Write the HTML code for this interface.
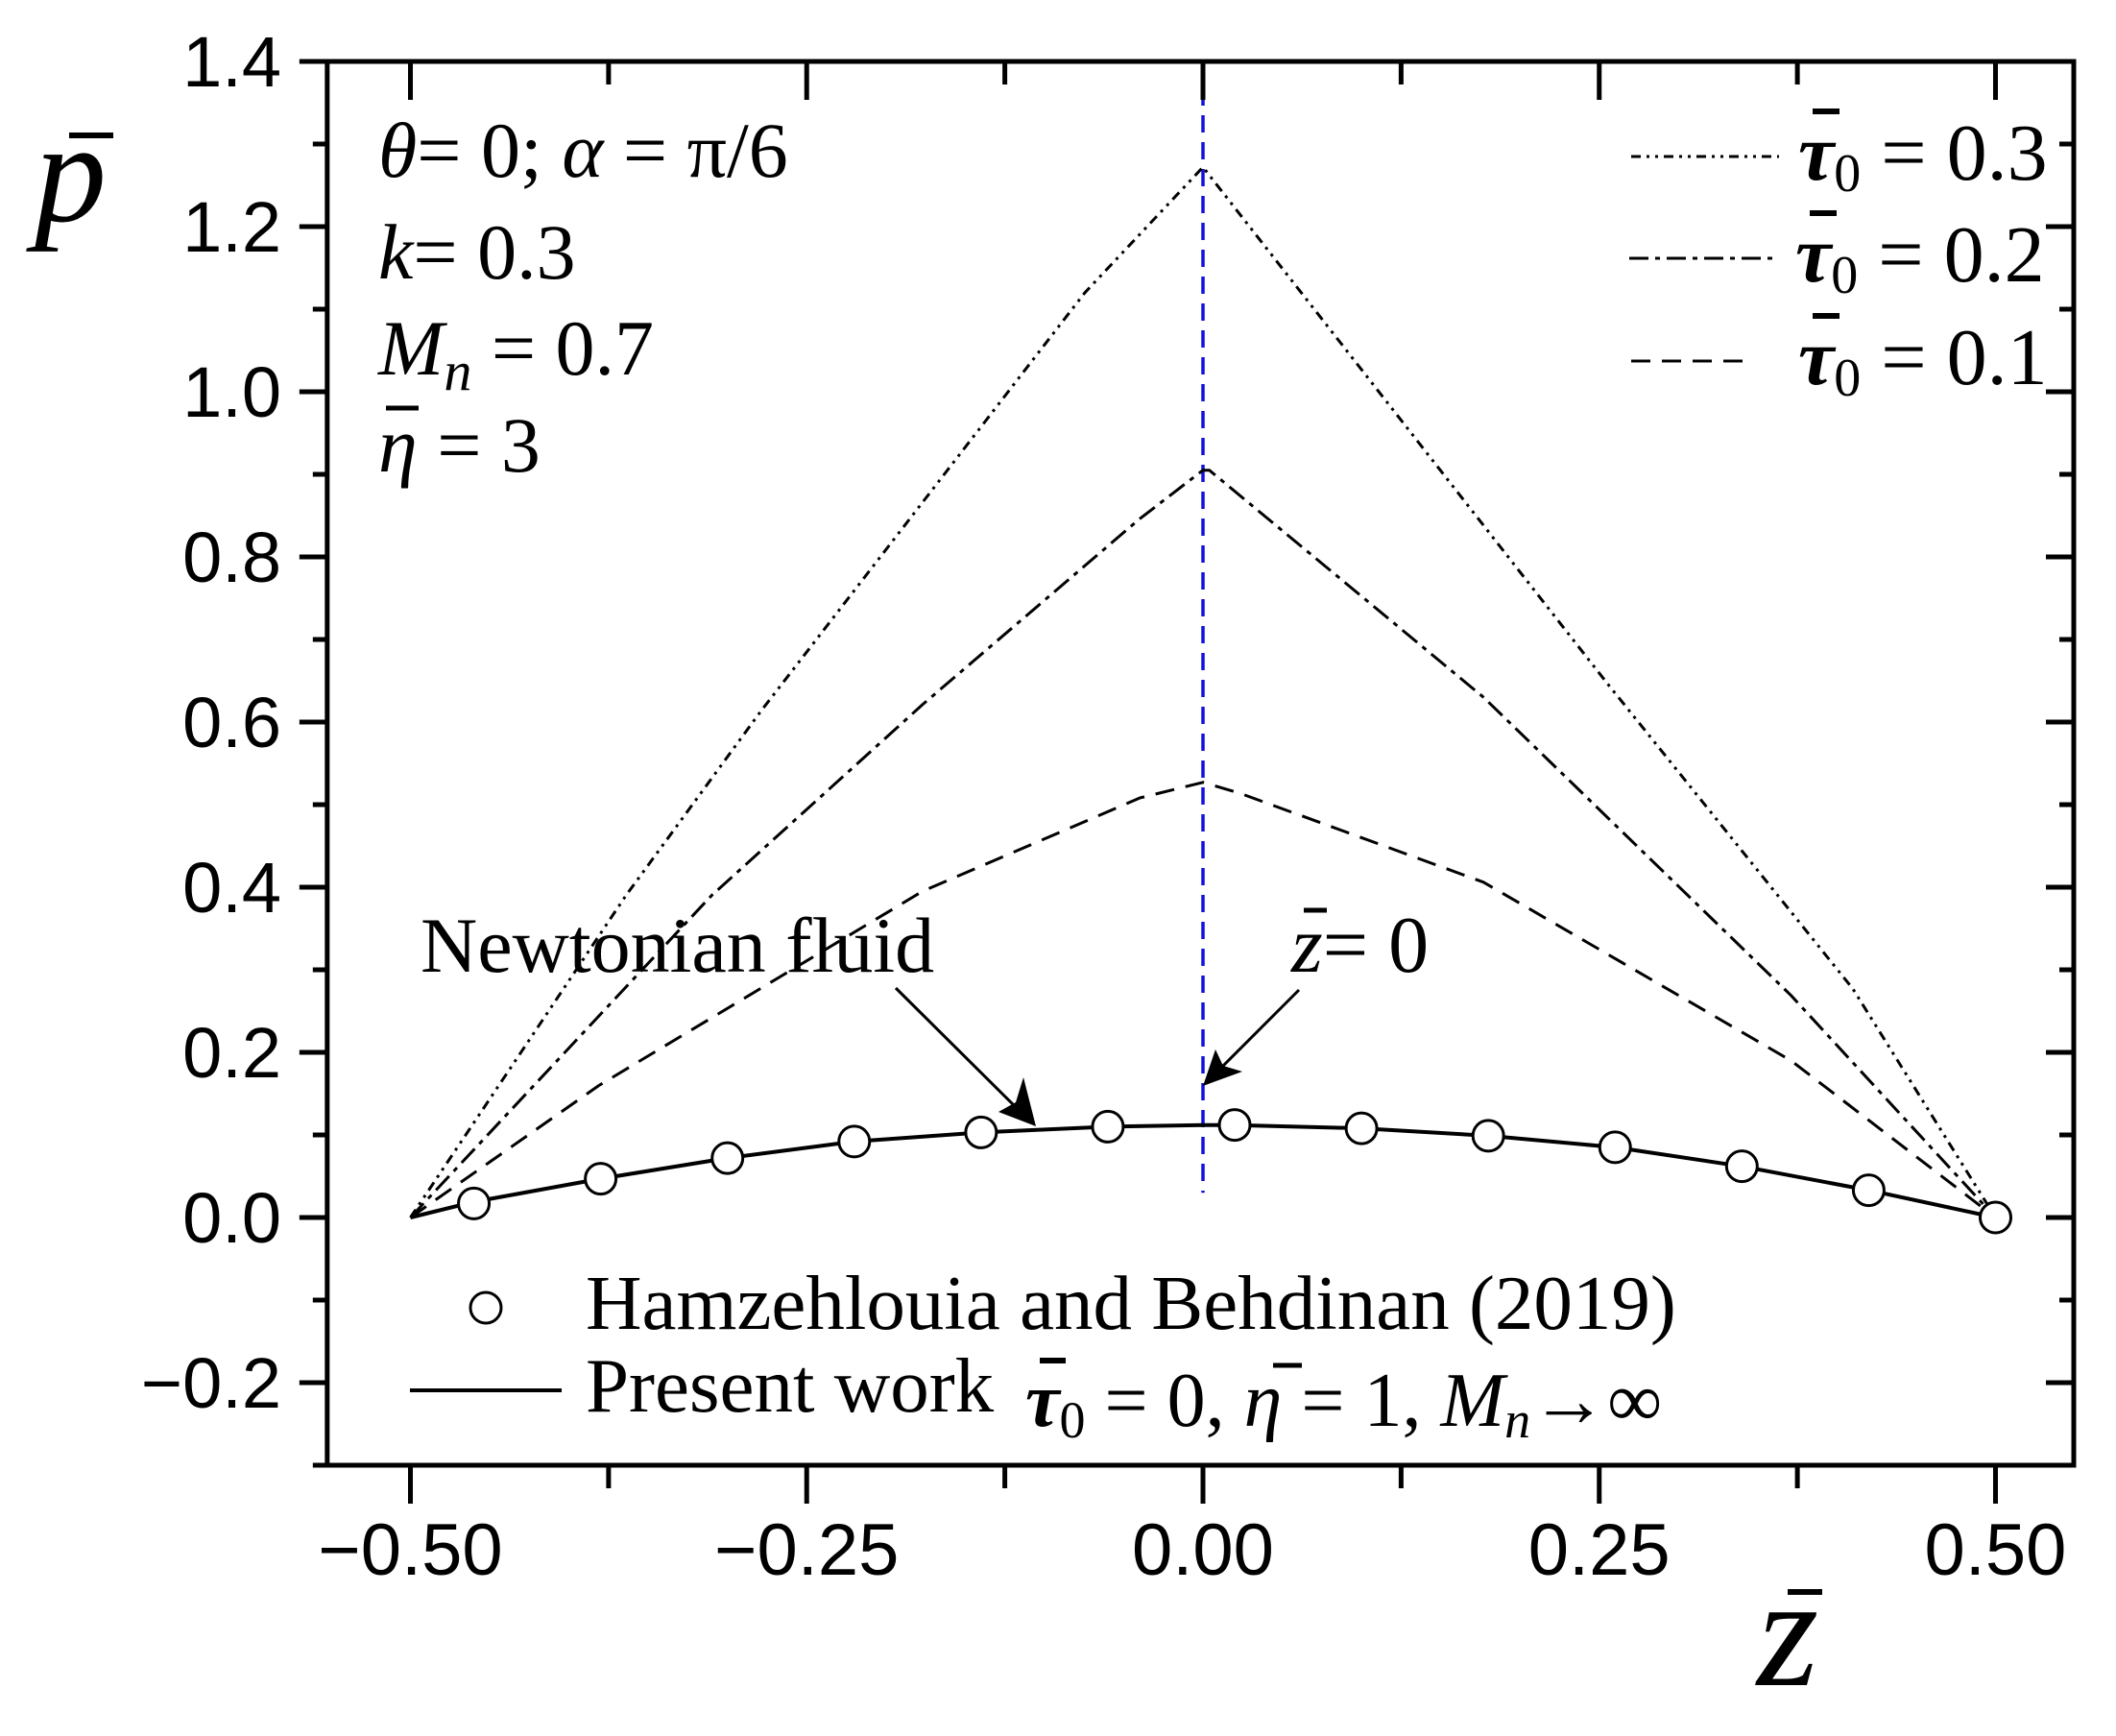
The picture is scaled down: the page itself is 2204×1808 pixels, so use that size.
<!DOCTYPE html>
<html><head><meta charset="utf-8"><style>
html,body{margin:0;padding:0;background:#fff;}
svg{display:block;}
.ser{font-family:"Liberation Serif","DejaVu Serif",serif;}
.san{font-family:"Liberation Sans",Arial,sans-serif;}
</style></head>
<body>
<svg id="chart" width="2204" height="1808" viewBox="0 0 2204 1808" xmlns="http://www.w3.org/2000/svg">
<g id="marks"></g>
<g id="axes"></g>
<g class="ser" fill="#000">
  <text x="394" y="184" font-size="82"><tspan font-style="italic">θ</tspan>= 0; <tspan font-style="italic">α</tspan> = π/6</text>
  <text x="394" y="290" font-size="82"><tspan font-style="italic">k</tspan>= 0.3</text>
  <text x="394" y="390" font-size="82"><tspan font-style="italic">M</tspan><tspan font-style="italic" font-size="58" dy="16">n</tspan><tspan dy="-16"> = 0.7</tspan></text>
  <text x="394" y="491" font-size="82"><tspan font-style="italic">η</tspan> = 3</text>
  <line x1="402" y1="425" x2="436" y2="425" stroke="#000" stroke-width="5"/>
  <text x="438" y="1012" font-size="82">Newtonian fluid</text>
  <text x="1345" y="1012" font-size="84"><tspan font-style="italic">z</tspan>= 0</text>
  <line x1="1358" y1="948" x2="1382" y2="948" stroke="#000" stroke-width="5"/>
  <line x1="933" y1="1029" x2="1065" y2="1160" stroke="#000" stroke-width="3"/>
  <polygon points="1079,1173 1040,1158 1058,1148 1066,1122" fill="#000"/>
  <line x1="1353" y1="1031" x2="1266" y2="1118" stroke="#000" stroke-width="3"/>
  <polygon points="1253,1131 1266,1093 1274,1110 1294,1116" fill="#000"/>
  <text x="36" y="230" font-size="150" font-style="italic">p</text>
  <line x1="72" y1="141" x2="118" y2="141" stroke="#000" stroke-width="6"/>
  <text x="1830" y="1755" font-size="165" font-style="italic">z</text>
  <line x1="1862" y1="1658" x2="1898" y2="1658" stroke="#000" stroke-width="6"/>
</g>
<g class="ser">
  <line x1="1699" y1="163" x2="1853" y2="163" stroke="#000" stroke-width="3" stroke-dasharray="10 6 3 6 3 6"/>
  <text x="1873" y="187" font-size="84"><tspan font-style="italic" font-weight="bold">τ</tspan><tspan font-size="56" dy="12">0</tspan><tspan dy="-12"> = 0.3</tspan></text>
  <line x1="1697" y1="269" x2="1853" y2="269" stroke="#000" stroke-width="3" stroke-dasharray="20 7 5 7"/>
  <text x="1870" y="293" font-size="84"><tspan font-style="italic" font-weight="bold">τ</tspan><tspan font-size="56" dy="12">0</tspan><tspan dy="-12"> = 0.2</tspan></text>
  <line x1="1699" y1="376" x2="1825" y2="376" stroke="#000" stroke-width="3" stroke-dasharray="20 12"/>
  <text x="1873" y="400" font-size="84"><tspan font-style="italic" font-weight="bold">τ</tspan><tspan font-size="56" dy="12">0</tspan><tspan dy="-12"> = 0.1</tspan></text>
  <line x1="1888" y1="116" x2="1916" y2="116" stroke="#000" stroke-width="6"/>
  <line x1="1885" y1="222" x2="1913" y2="222" stroke="#000" stroke-width="6"/>
  <line x1="1888" y1="329" x2="1916" y2="329" stroke="#000" stroke-width="6"/>
</g>
<g class="ser">
  <circle cx="506" cy="1362" r="16" fill="#fff" stroke="#000" stroke-width="3"/>
  <text x="610" y="1384" font-size="81">Hamzehlouia and Behdinan (2019)</text>
  <line x1="427" y1="1448" x2="585" y2="1448" stroke="#000" stroke-width="4"/>
  <text x="610" y="1470" font-size="81">Present work</text>
  <text x="1068" y="1485" font-size="80"><tspan font-style="italic" font-weight="bold">τ</tspan><tspan font-size="54" dy="12">0</tspan><tspan dy="-12"> = 0, </tspan><tspan font-style="italic">η</tspan> = 1, <tspan font-style="italic">M</tspan><tspan font-style="italic" font-size="54" dy="12">n</tspan><tspan dy="-12">→∞</tspan></text>
  <line x1="1083" y1="1417" x2="1110" y2="1417" stroke="#000" stroke-width="6"/>
  <line x1="1326" y1="1422" x2="1356" y2="1422" stroke="#000" stroke-width="5"/>
</g>
</svg>
<script>
const xTicks = [-0.5, -0.25, 0, 0.25, 0.5];
const xTickLabels = ["\u22120.50", "\u22120.25", "0.00", "0.25", "0.50"];
const yTicks = [-0.2, 0, 0.2, 0.4, 0.6, 0.8, 1.0, 1.2, 1.4];
const yTickLabels = ["\u22120.2", "0.0", "0.2", "0.4", "0.6", "0.8", "1.0", "1.2", "1.4"];
const tau03Z = [-0.5, -0.364, -0.279, -0.0745, 0, 0.255, 0.41, 0.5];
const tau03P = [0, 0.39, 0.613, 1.12, 1.272, 0.647, 0.277, 0];
const tau02Z = [-0.5, -0.31, -0.177, -0.04, 0, 0.004, 0.177, 0.371, 0.5];
const tau02P = [0, 0.39, 0.621, 0.846, 0.905, 0.905, 0.63, 0.269, 0];
const tau01Z = [-0.5, -0.381, -0.177, -0.04, 0, 0.023, 0.177, 0.371, 0.5];
const tau01P = [0, 0.16, 0.395, 0.508, 0.527, 0.514, 0.406, 0.19, 0];
const newtZ = [-0.5, -0.46, -0.38, -0.30, -0.22, -0.14, -0.06, 0, 0.02, 0.10, 0.18, 0.26, 0.34, 0.42, 0.5];
const newtP = [0, 0.019, 0.047, 0.072, 0.092, 0.103, 0.110, 0.112, 0.112, 0.108, 0.099, 0.085, 0.062, 0.033, 0];
const refZ = [-0.46, -0.38, -0.30, -0.22, -0.14, -0.06, 0.02, 0.10, 0.18, 0.26, 0.34, 0.42, 0.50];
const refP = [0.017, 0.047, 0.072, 0.092, 0.103, 0.110, 0.112, 0.108, 0.099, 0.085, 0.062, 0.033, 0];

const NS = "http://www.w3.org/2000/svg";
const X0 = 1253, XS = 1651, Y0 = 1268, YS = 860;
function xs(v){ return X0 + v * XS; }
function ys(v){ return Y0 - v * YS; }
const LEFT = xs(-0.5525), RIGHT = 2160, TOP = ys(1.4), BOT = ys(-0.3);
function mk(tag, attrs, parent){
  const e = document.createElementNS(NS, tag);
  for (const k in attrs) e.setAttribute(k, attrs[k]);
  parent.appendChild(e);
  return e;
}
const marks = document.getElementById("marks");
const axes = document.getElementById("axes");

const vl = mk("line", {x1: xs(0), x2: xs(0), y1: TOP, y2: ys(0.03), stroke: "#1010e0", "stroke-width": 3.5, "stroke-dasharray": "18 10"}, marks);



function series(zs, ps, dash, name, w){
  const d = zs.map((z,i)=>(i?"L":"M")+xs(z).toFixed(1)+","+ys(ps[i]).toFixed(1)).join(" ");
  const p = mk("path", {d: d, fill: "none", stroke: "#000", "stroke-width": w, "stroke-dasharray": dash, "stroke-linejoin": "round"}, marks);
  
  
}
series(tau03Z, tau03P, "10 6 3 6 3 6", "series-tau03", 3);
series(tau02Z, tau02P, "20 7 5 7", "series-tau02", 3);
series(tau01Z, tau01P, "20 12", "series-tau01", 3);
series(newtZ, newtP, "none", "series-present-work", 4);
refZ.forEach((z,i)=>{
  const c = mk("circle", {cx: xs(z), cy: ys(refP[i]), r: 16, fill: "#fff", stroke: "#000", "stroke-width": 3}, marks);
  
  
});

const fr = mk("rect", {x: LEFT, y: TOP, width: RIGHT-LEFT, height: BOT-TOP, fill: "none", stroke: "#000", "stroke-width": 5}, axes);



for (let v = -0.3; v <= 1.401; v += 0.1){
  const major = Math.abs(Math.round(v*10) % 2) === 0;
  const y = ys(v);
  const len = major ? 29 : 15;
  const t1 = mk("line", {x1: LEFT-len, x2: LEFT, y1: y, y2: y, stroke: "#000", "stroke-width": 5}, axes);
  
  
  const t2 = mk("line", {x1: RIGHT, x2: RIGHT-len, y1: y, y2: y, stroke: "#000", "stroke-width": 5}, axes);
  
  
}
yTicks.forEach((v,i)=>{
  const t = mk("text", {x: 293, y: ys(v)+26, "font-size": 74, "text-anchor": "end", class: "san"}, axes);
  t.textContent = yTickLabels[i];
  
  
});
for (let k = -4; k <= 4; k++){
  const v = k * 0.125;
  const major = k % 2 === 0;
  const x = xs(v);
  const len = major ? 40 : 24;
  const t1 = mk("line", {x1: x, x2: x, y1: BOT, y2: BOT+len, stroke: "#000", "stroke-width": 5}, axes);
  
  
  const t2 = mk("line", {x1: x, x2: x, y1: TOP, y2: TOP+(major?40:24), stroke: "#000", "stroke-width": 5}, axes);
  
  
}
xTicks.forEach((v,i)=>{
  const t = mk("text", {x: xs(v), y: 1640, "font-size": 76, "text-anchor": "middle", class: "san"}, axes);
  t.textContent = xTickLabels[i];
  
  
});
</script>
</body></html>
